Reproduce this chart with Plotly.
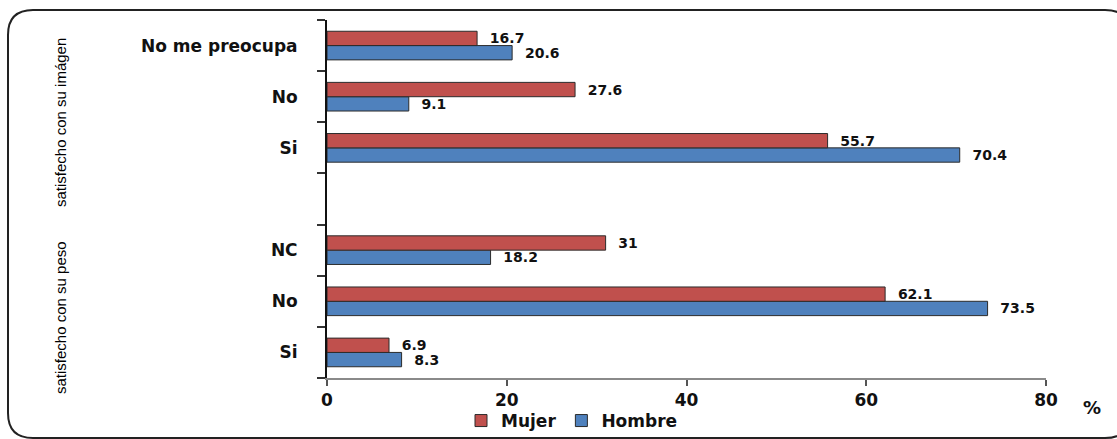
import plotly.graph_objects as go

# Category keys (bottom to top); the empty slot separates the two groups
cat_keys = ["peso_si", "peso_no", "peso_nc", "gap", "img_si", "img_no", "img_nopreocupa"]
cat_labels = ["Si", "No", "NC", "", "Si", "No", "No me preocupa"]

mujer = [6.9, 62.1, 31, None, 55.7, 27.6, 16.7]
hombre = [8.3, 73.5, 18.2, None, 70.4, 9.1, 20.6]

group_labels = ["satisfecho con su imágen", "satisfecho con su peso"]

W, H = 1117, 439
ML, MR, MT, MB = 327, 71, 20, 61
PW, PH = W - ML - MR, H - MT - MB


def px_x(px):
    return (px - ML) / PW


def px_y(py):
    return (H - MB - py) / PH


def fmt(v):
    return "" if v is None else f"  {v:g}"


FONT = "DejaVu Sans"
label_font = dict(family=FONT, size=14, color="#111111", weight="bold")

fig = go.Figure()
fig.add_trace(go.Bar(
    y=cat_keys, x=hombre, orientation="h", name="Hombre",
    marker=dict(color="#4F81BD", line=dict(color="#2b2b2b", width=1)),
    text=[fmt(v) for v in hombre], textposition="outside",
    textfont=label_font, constraintext="none", cliponaxis=False, legendrank=2,
))
fig.add_trace(go.Bar(
    y=cat_keys, x=mujer, orientation="h", name="Mujer",
    marker=dict(color="#C0504D", line=dict(color="#2b2b2b", width=1)),
    text=[fmt(v) for v in mujer], textposition="outside",
    textfont=label_font, constraintext="none", cliponaxis=False, legendrank=1,
))

fig.update_layout(
    width=W, height=H,
    margin=dict(l=ML, r=MR, t=MT, b=MB, autoexpand=False),
    paper_bgcolor="white", plot_bgcolor="white",
    barmode="group", bargap=0.44, bargroupgap=0,
    font=dict(family=FONT, color="#111111"),
    showlegend=True,
    legend=dict(orientation="h", xref="container", yref="container",
                x=572 / W, xanchor="center",
                y=(H - 421) / H, yanchor="middle",
                bgcolor="rgba(0,0,0,0)",
                font=dict(family=FONT, size=17, color="#111111", weight="bold"),
                traceorder="normal"),
)

fig.update_xaxes(
    range=[0, 80], tickvals=[0, 20, 40, 60, 80],
    showgrid=False, zeroline=False,
    showline=True, linecolor="#8a8a8a", linewidth=2,
    ticks="outside", ticklen=6, tickcolor="#555555", tickwidth=2,
    tickfont=dict(family=FONT, size=17, color="#111111", weight="bold"),
    automargin=False,
)
fig.update_yaxes(
    type="category", categoryorder="array", categoryarray=cat_keys,
    tickmode="array", tickvals=cat_keys, ticktext=cat_labels,
    tickson="boundaries",
    showgrid=False, zeroline=False,
    showline=True, linecolor="#111111", linewidth=2,
    ticks="outside", ticklen=8, tickcolor="#333333", tickwidth=1.5,
    tickfont=dict(family=FONT, size=17, color="#111111", weight="bold"),
    ticklabelstandoff=24, automargin=False,
)

# Rotated group titles on the left
for text, cy in zip(group_labels, [123, 318]):
    fig.add_annotation(
        x=px_x(60), y=px_y(cy), xref="paper", yref="paper",
        text=text, textangle=-90, showarrow=False,
        font=dict(family="Liberation Sans Narrow, Liberation Sans, sans-serif", size=15, color="#000000"),
        xanchor="center", yanchor="middle",
    )

# Unit label next to the x axis
fig.add_annotation(
    x=px_x(1092), y=px_y(407), xref="paper", yref="paper",
    text="%", showarrow=False,
    font=dict(family=FONT, size=18, color="#111111", weight="bold"),
    xanchor="center", yanchor="middle",
)

# Rounded frame around the whole chart
x0, x1 = px_x(8), px_x(1130)
y0, y1 = px_y(438), px_y(10)
rx, ry = 25 / PW, 25 / PH
path = (
    f"M {x0 + rx},{y1} L {x1 - rx},{y1} Q {x1},{y1} {x1},{y1 - ry} "
    f"L {x1},{y0 + ry} Q {x1},{y0} {x1 - rx},{y0} "
    f"L {x0 + rx},{y0} Q {x0},{y0} {x0},{y0 + ry} "
    f"L {x0},{y1 - ry} Q {x0},{y1} {x0 + rx},{y1} Z"
)
fig.add_shape(type="path", path=path, xref="paper", yref="paper",
              line=dict(color="#222222", width=2), layer="below")

fig.write_html("out.html")
